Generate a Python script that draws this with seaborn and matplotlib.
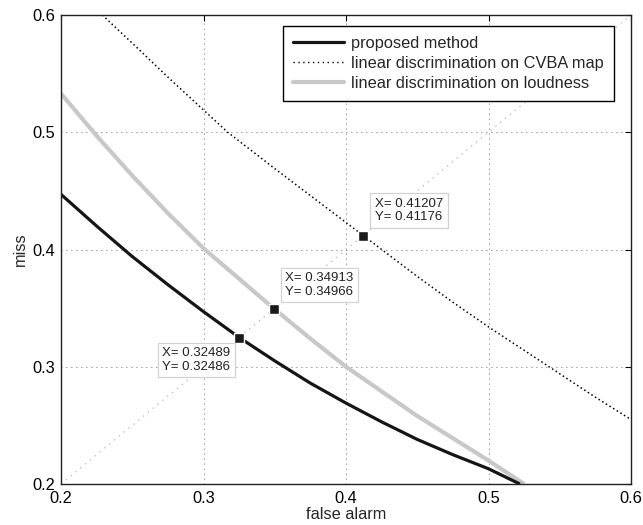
import matplotlib
matplotlib.use("Agg")
import matplotlib.pyplot as plt
import seaborn as sns
from matplotlib.lines import Line2D

# ---- data ----
prop_x = [0.200, 0.225, 0.250, 0.275, 0.300, 0.325, 0.350, 0.375, 0.400, 0.425, 0.450, 0.475, 0.500, 0.522]
prop_y = [0.447, 0.420, 0.394, 0.370, 0.347, 0.325, 0.305, 0.286, 0.269, 0.253, 0.238, 0.225, 0.213, 0.200]

cvba_x = [0.229, 0.250, 0.275, 0.300, 0.317, 0.350, 0.375, 0.400, 0.412, 0.450, 0.475, 0.500, 0.525, 0.550, 0.575, 0.600]
cvba_y = [0.600, 0.576, 0.547, 0.519, 0.500, 0.469, 0.446, 0.423, 0.412, 0.377, 0.355, 0.334, 0.314, 0.294, 0.274, 0.255]

loud_x = [0.200, 0.225, 0.250, 0.275, 0.300, 0.325, 0.349, 0.375, 0.400, 0.425, 0.450, 0.475, 0.500, 0.525]
loud_y = [0.533, 0.497, 0.463, 0.431, 0.401, 0.375, 0.350, 0.324, 0.300, 0.279, 0.258, 0.239, 0.220, 0.200]

diag = [0.2, 0.6]

tips_x = [0.32489, 0.34913, 0.41207]
tips_y = [0.32486, 0.34966, 0.41176]

labels = ["proposed method", "linear discrimination on CVBA map", "linear discrimination on loudness"]
ticks = [0.2, 0.3, 0.4, 0.5, 0.6]
tick_labels = ["0.2", "0.3", "0.4", "0.5", "0.6"]

# ---- style ----
sns.set_style("white")
plt.rcParams["font.family"] = ["Liberation Sans", "DejaVu Sans"]

fig = plt.figure(figsize=(6.43, 5.25), dpi=100)
ax = fig.add_axes([61 / 643, 1 - 484 / 525, 570 / 643, 469 / 525])

# diagonal (equal error line)
sns.lineplot(x=diag, y=diag, ax=ax, color="#b4b4b4", lw=0.9,
             linestyle=(0, (1, 4)), legend=False)

sns.lineplot(x=loud_x, y=loud_y, ax=ax, color="#c8c8c8", lw=3.0, sort=False,
             legend=False, solid_capstyle="butt", solid_joinstyle="round")
sns.lineplot(x=cvba_x, y=cvba_y, ax=ax, color="black", lw=1.1, sort=False,
             linestyle=(0, (1, 1.8)), legend=False)
sns.lineplot(x=prop_x, y=prop_y, ax=ax, color="#151515", lw=2.3, sort=False,
             legend=False, solid_capstyle="butt", solid_joinstyle="round")

# data tip markers
ax.plot(tips_x, tips_y, linestyle="none", marker="s", ms=7.5,
        mfc="#1a1a1a", mec="white", mew=1.0, zorder=5)

box = dict(boxstyle="square,pad=0.35", fc="white", ec="#d2d2d2", lw=0.9)
tipfs = 9.5
offsets = [((-6.2, -6.9), "right", "top"),
           ((8.4, 7.8), "left", "bottom"),
           ((8.4, 9.0), "left", "bottom")]
for (tx, ty), (off, ha, va) in zip(zip(tips_x, tips_y), offsets):
    ax.annotate(f"X= {tx:.5f}\nY= {ty:.5f}", xy=(tx, ty), xytext=off,
                textcoords="offset points", ha=ha, va=va, multialignment="left",
                fontsize=tipfs, color="#222222", bbox=box, zorder=6,
                linespacing=1.15)

ax.set_xlim(0.2, 0.6)
ax.set_ylim(0.2, 0.6)
ax.set_xticks(ticks)
ax.set_xticklabels(tick_labels)
ax.set_yticks(ticks)
ax.set_yticklabels(tick_labels)
ax.grid(True, color="#333333", linestyle=(0, (1, 5)), lw=0.6)
ax.tick_params(direction="in", length=4, width=0.8, top=True, right=True,
               labelsize=11.8, colors="black", pad=4)
ax.tick_params(axis="x", pad=5)
for s in ax.spines.values():
    s.set_color("#222222")
    s.set_linewidth(1.0)

ax.set_xlabel("false alarm", fontsize=11.8, labelpad=1)
ax.set_ylabel("miss", fontsize=11.8, labelpad=3)

handles = [Line2D([], [], color="#151515", lw=2.3),
           Line2D([], [], color="black", lw=1.0, linestyle=(0, (1, 2.5))),
           Line2D([], [], color="#c8c8c8", lw=3.0)]
leg = ax.legend(handles, labels, loc="upper right",
                bbox_to_anchor=((614 - 61) / 570, (484 - 26) / 469),
                borderaxespad=0, fontsize=11.8, frameon=True, fancybox=False,
                framealpha=1, edgecolor="black", handlelength=3.1,
                handletextpad=0.45, labelspacing=0.3, borderpad=0.6)
leg.get_frame().set_linewidth(1.0)

fig.savefig("out.png", dpi=100)
